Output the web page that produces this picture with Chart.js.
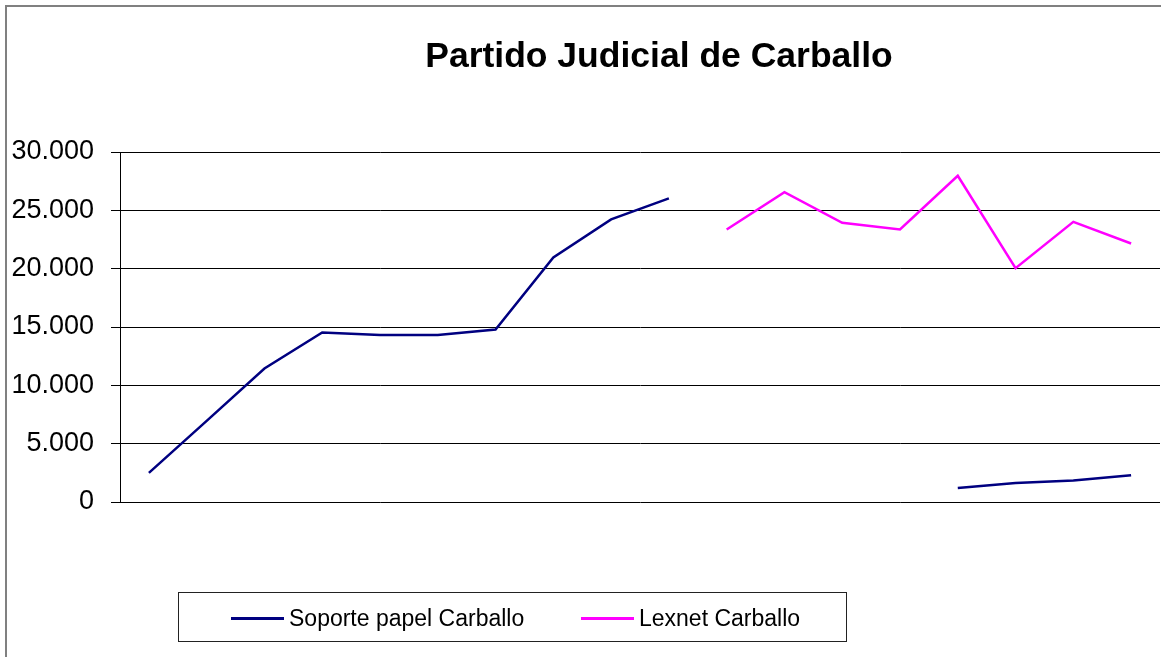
<!DOCTYPE html>
<html>
<head>
<meta charset="utf-8">
<script src="https://cdn.jsdelivr.net/npm/chart.js@4.4.1/dist/chart.umd.min.js"></script>
<style>
  body { margin: 0; background: #fff; }
  #wrap { position: relative; width: 1161px; height: 657px; overflow: hidden; font-family: "Liberation Sans", Arial, sans-serif; }
  #frame { position: absolute; left: 5px; top: 5px; width: 1200px; height: 700px; border-left: 2px solid #808080; border-top: 2px solid #808080; pointer-events: none; }
  #title { position: absolute; left: 0; top: 33px; width: 1318px; text-align: center; font-size: 35.5px; font-weight: bold; color: #000; line-height: 44px; }
  #legend { position: absolute; left: 178px; top: 592px; width: 669px; height: 50px; border: 1px solid #222; box-sizing: border-box; }
  .item { position: absolute; top: 0; height: 50px; display: flex; align-items: center; font-size: 23px; color: #000; }
  .swatch { width: 53px; height: 3px; margin-right: 5px; }
  canvas { position: absolute; left: 0; top: 0; }
</style>
</head>
<body>
<div id="wrap">
  <canvas id="chart" width="1161" height="657"></canvas>
  <div id="frame"></div>
  <div id="title">Partido Judicial de Carballo</div>
  <div id="legend"></div>
</div>
<script>
// ---------- DATA ----------
const categories = ['1','2','3','4','5','6','7','8','9','10','11','12','13','14','15','16','17','18'];
const soportePapel = [2500, 6950, 11440, 14530, 14320, 14320, 14790, 20960, 24220, 26020,
  null, null, null, null, 1200, 1630, 1840, 2290];
const lexnet = [null, null, null, null, null, null, null, null, null, null,
  23360, 26560, 23930, 23360, 27960, 20040, 24010, 22160];
const seriesNames = ['Soporte papel Carballo', 'Lexnet Carballo'];
const seriesColors = ['#000080', '#FF00FF'];

// ---------- HELPERS ----------
function fmtThousands(v) {
  return String(v).replace(/\B(?=(\d{3})+(?!\d))/g, '.');
}

// ---------- CHART ----------
const ctx = document.getElementById('chart').getContext('2d');
const chart = new Chart(ctx, {
  type: 'line',
  data: {
    labels: categories,
    datasets: [
      { label: seriesNames[0], data: soportePapel, borderColor: seriesColors[0], backgroundColor: seriesColors[0] },
      { label: seriesNames[1], data: lexnet, borderColor: seriesColors[1], backgroundColor: seriesColors[1] }
    ]
  },
  options: {
    responsive: false,
    animation: false,
    spanGaps: false,
    layout: { padding: { left: 0, right: 1, top: 152, bottom: 155 } },
    elements: {
      line: { borderWidth: 2.5, tension: 0 },
      point: { radius: 0, hoverRadius: 0 }
    },
    plugins: {
      legend: { display: false },
      title: { display: false },
      tooltip: { enabled: false }
    },
    scales: {
      x: { display: false, offset: true },
      y: {
        min: 0,
        max: 30000,
        ticks: {
          stepSize: 5000,
          padding: 17,
          color: '#000',
          font: { family: '"Liberation Sans", Arial, sans-serif', size: 27 },
          callback: v => fmtThousands(v)
        },
        grid: { color: '#000', lineWidth: 1, tickLength: 9, tickColor: '#000' },
        border: { color: '#000', width: 1 },
        afterFit: scale => { scale.width = 120; }
      }
    }
  }
});

// ---------- LEGEND ----------
const legendEl = document.getElementById('legend');
const itemLefts = [52, 402];
chart.data.datasets.forEach((ds, i) => {
  const item = document.createElement('div');
  item.className = 'item';
  item.style.left = itemLefts[i] + 'px';
  item.innerHTML = `<span class="swatch" style="background:${ds.borderColor}"></span><span>${ds.label}</span>`;
  legendEl.appendChild(item);
});
</script>
</body>
</html>
